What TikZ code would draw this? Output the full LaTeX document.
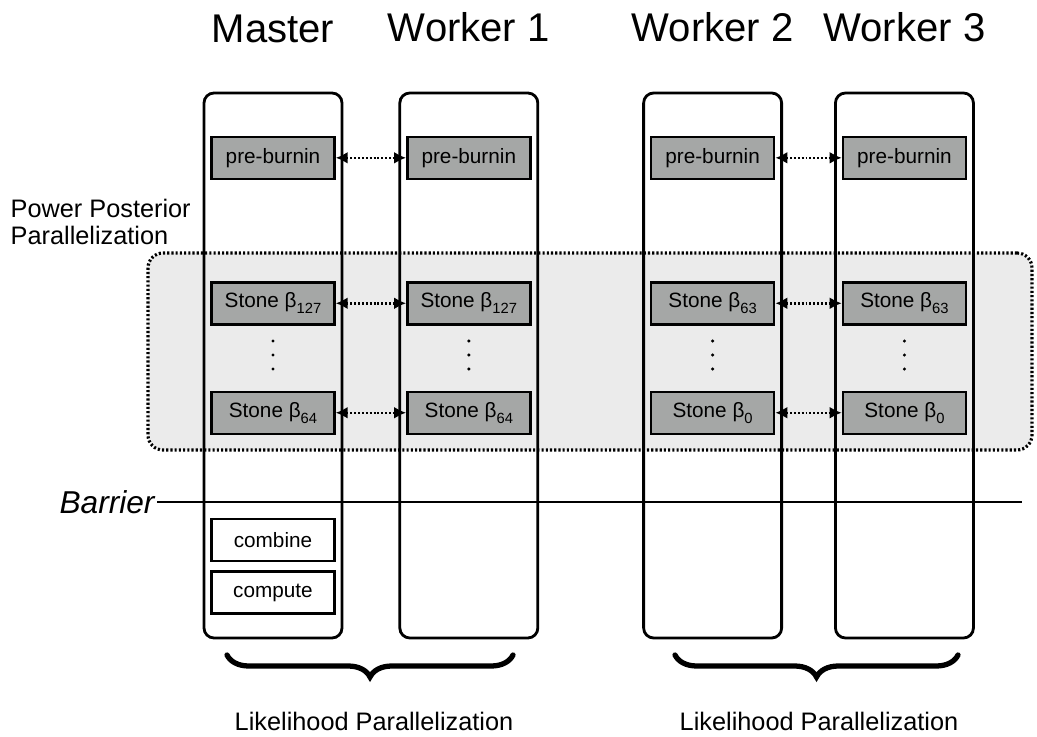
\documentclass[tikz,border=0pt]{standalone}
\usepackage{fontspec}
\setmainfont{Liberation Sans}
\usetikzlibrary{arrows.meta,positioning,calc,decorations.pathreplacing}

\definecolor{stonegray}{HTML}{A5A7A6}
\definecolor{regiongray}{HTML}{EBEBEB}

% lowered small index after the beta
\newcommand{\stonesub}[1]{\raisebox{-1.7pt}{\fontsize{4.2}{5}\selectfont #1}}

\begin{document}
\begin{tikzpicture}[
    column/.style={draw, line width=0.8pt, rounded corners=1mm, minimum width=1.38cm, minimum height=5.45cm},
    task/.style={draw, line width=0.7pt, fill=stonegray, minimum width=1.23cm, minimum height=0.42cm, inner sep=0pt, font=\fontsize{5.9}{7}\selectfont},
    final/.style={task, fill=white},
    title/.style={font=\fontsize{11.4}{13}\selectfont, anchor=base},
    caption/.style={font=\fontsize{7.2}{7.7}\selectfont, inner sep=0pt},
    region/.style={draw, fill=regiongray, rounded corners=1.5mm, line width=0.9pt, dash pattern=on 0.6pt off 0.6pt, minimum width=8.84cm, minimum height=1.97cm},
    sync/.style={{Latex[length=1.2mm,width=1.2mm]}-{Latex[length=1.2mm,width=1.2mm]}, line width=0.7pt, dash pattern=on 0.55pt off 0.55pt},
    lbrace/.style={decorate, decoration={brace, mirror, amplitude=2.2mm}, line width=1.5pt, line cap=round}
]
\useasboundingbox (0,0) rectangle (10.37,7.36);

% shaded band for the stones
\node[region] (stones) at (5.90,3.845) {};

% the four processes
\node[column] (master) at (2.73,3.705) {};
\node[column, right=0.55cm of master] (worker1) {};
\node[column, right=1.03cm of worker1] (worker2) {};
\node[column, right=0.51cm of worker2] (worker3) {};

\node[title] (t-master) at ([yshift=4.9mm]master.north) {Master};
\node[title] (t-worker1) at ([yshift=5.0mm]worker1.north) {Worker 1};
\node[title] (t-worker2) at ([yshift=5.0mm]worker2.north) {Worker 2};
\node[title] (t-worker3) at ([yshift=5.0mm]worker3.north) {Worker 3};

\foreach \col/\hi/\lo in {master/127/64, worker1/127/64, worker2/63/0, worker3/63/0} {
    \node[task, below=4.4mm of \col.north] (\col-pre) {pre-burnin};
    \node[task, below=1.01cm of \col-pre] (\col-hi) {Stone β\stonesub{\hi}};
    \node[task, below=6.5mm of \col-hi] (\col-lo) {Stone β\stonesub{\lo}};
    \foreach \d in {-1,0,1}
        \fill ([yshift=\d*1.4mm+0.3mm]$(\col-hi)!0.5!(\col-lo)$) circle (0.17mm);
}

% exchanges between paired processes
\foreach \row in {pre,hi,lo} {
    \draw[sync] (master-\row) -- (worker1-\row);
    \draw[sync] (worker2-\row) -- (worker3-\row);
}

\node[caption, align=left, anchor=west] (pp) at (0.10,5.14) {Power Posterior\\Parallelization};

% barrier
\node[anchor=east, inner sep=0.5pt, font=\fontsize{9}{10}\selectfont\itshape] (barrier) at (1.57,2.34) {Barrier};
\coordinate (barrierend) at (10.22,2.34);
\draw[line width=0.8pt] (barrier.east) -- (barrierend);

\node[final, below=8.3mm of master-lo] (combine) {combine};
\node[final, below=0.8mm of combine] (compute) {compute};

% likelihood groups
\coordinate (b1l) at (2.27,0.81);
\coordinate (b1r) at (5.13,0.81);
\coordinate (b2l) at (6.75,0.81);
\coordinate (b2r) at (9.58,0.81);
\draw[lbrace] (b1l) -- (b1r);
\draw[lbrace] (b2l) -- (b2r);
\node[caption, anchor=base] (lp1) at (3.74,0.06) {Likelihood Parallelization};
\node[caption, anchor=base] (lp2) at (8.19,0.06) {Likelihood Parallelization};

\end{tikzpicture}
\end{document}
